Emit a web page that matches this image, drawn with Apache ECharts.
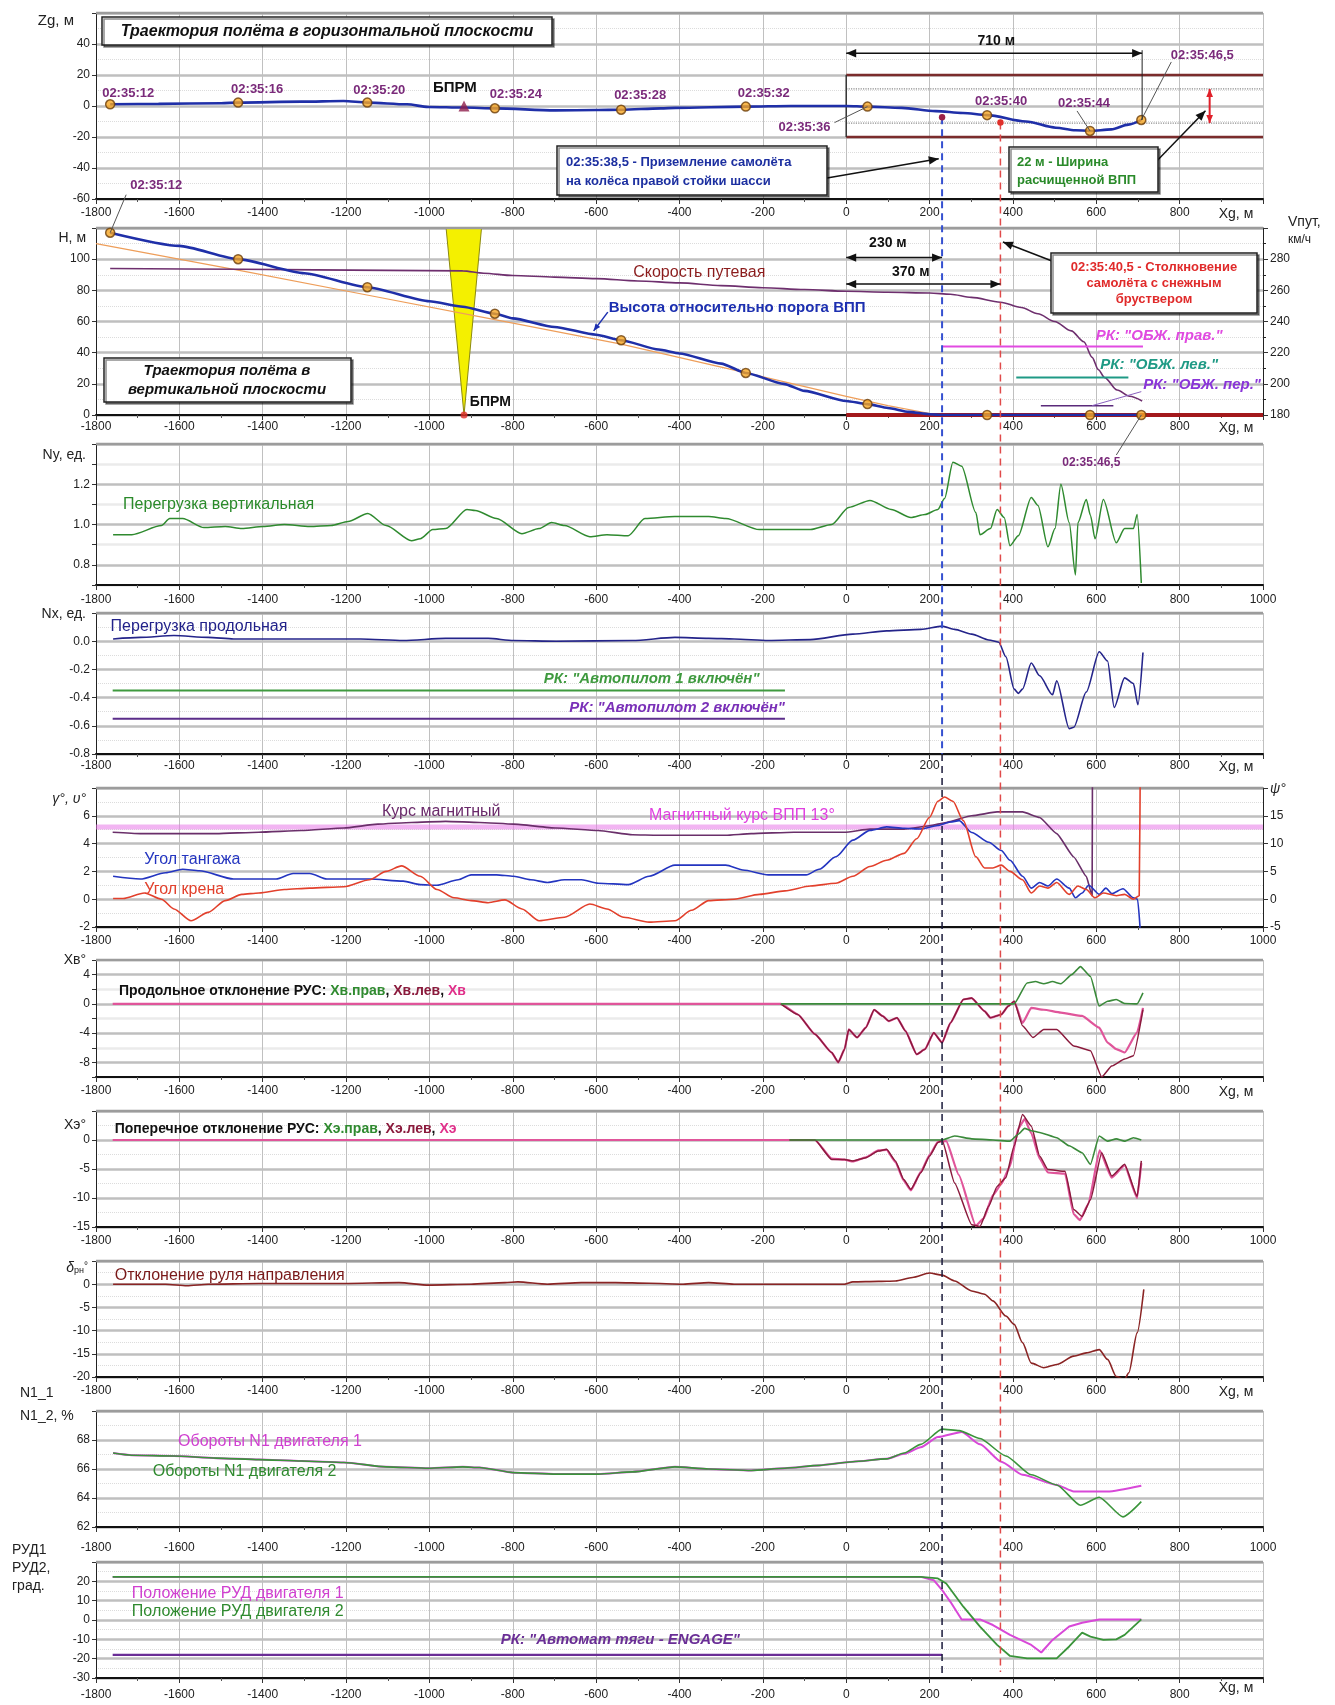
<!DOCTYPE html>
<html lang="ru">
<head>
<meta charset="utf-8">
<title>Траектория и параметры полёта</title>
<script src="https://cdn.jsdelivr.net/npm/echarts@6/dist/echarts.min.js"></script>
<style>
html,body{margin:0;padding:0;background:#fff;}
#chart{width:1335px;height:1705px;}
</style>
</head>
<body>
<div id="chart"></div>
<script>
// ---------------- recorded values ----------------
// time stamps along the approach (Xg in m, Zg in m, H in m)
const timeLabels = ['02:35:12','02:35:16','02:35:20','02:35:24','02:35:28','02:35:32','02:35:36','02:35:40','02:35:44','02:35:46,5'];
const timeX  = [-1766,-1459,-1149,-843,-540,-241,51,338,585,708];
const timeZg = [1.1,2.2,2.2,-1.5,-2.4,-0.4,-0.4,-5.9,-16.1,-9];
const timeH  = [117,100,82,65,48,27,7,0,0,0];

// events and runway geometry
const touchdownX = 230;
const collisionX = 370;
const touchdownZg = -7.3;
const collisionZg = -10.6;
const bprmX = -917;
const bprmBeam = [-960, -875];
const runwayStart = 0;
const runwayEnd = 1000;
const runwayHalfWidth = 20;
const clearedHalfWidth = 11;
const trackLength = 710;
const runwayCourse = 13;

// horizontal trajectory Zg(Xg)
const zgTrack = [[-1766,1.1],[-1650,1.4],[-1500,1.8],[-1459,2.2],[-1307,2.8],[-1206,3.2],[-1149,2.2],[-1054,1.1],[-1003,-0.6],[-917,-1.0],[-843,-1.5],[-698,-2.8],[-600,-2.6],[-540,-2.4],[-445,-1.5],[-410,-1.2],[-241,-0.4],[-133,0],[0,0],[51,-0.4],[133,-1.2],[215,-3.3],[280,-4.5],[338,-5.9],[431,-10],[503,-14],[550,-15.6],[585,-16.1],[636,-15.1],[677,-12],[708,-9]];

// vertical trajectory H(Xg), glide path, ground speed
const heightTrack = [[-1766,117],[-1600,108.5],[-1459,100],[-1300,91],[-1149,82],[-1000,73],[-920,69.5],[-843,65],[-800,62],[-700,56.5],[-600,51.5],[-540,48],[-450,42],[-400,39.5],[-300,33],[-241,27],[-150,20],[-100,15.5],[0,9],[51,7],[100,4.5],[150,2],[200,0.5],[230,0],[710,0]];
const glidePath = [[-1800,110],[-1450,92.5],[-1150,77],[-840,61],[-540,45.5],[-240,27],[0,12],[100,6],[220,0]];
const groundSpeed = [[-1766,274],[-1450,273.5],[-1100,272.8],[-920,272.5],[-870,271],[-800,269.5],[-700,268.5],[-600,267.5],[-500,266],[-400,264.8],[-300,263],[-200,261.7],[-100,260.5],[0,259.4],[100,258.8],[200,258.3],[250,257.5],[300,255.5],[370,252.4],[420,249],[460,245],[500,240],[540,234],[570,227],[590,217],[605,209],[620,204],[650,196],[680,192],[710,189]];

// one-shot signals [from, to, level]
const rkGearRight = [231, 712, 44];
const rkGearLeft  = [408, 677, 24];
const rkGearNose  = [467, 641, 6];
const rkAutopilot1 = [-1760, -147, -0.35];
const rkAutopilot2 = [-1760, -147, -0.55];
const rkAutothrottle = [-1760, 230, -18];

// vertical and longitudinal load factors
const nyLoad = [[-1759,0.95],[-1714,0.95],[-1643,0.995],[-1623,1.03],[-1592,1.03],[-1541,0.985],[-1490,0.99],[-1450,0.98],[-1399,0.99],[-1348,1.0],[-1287,0.99],[-1236,0.995],[-1195,1.015],[-1148,1.055],[-1104,0.995],[-1043,0.92],[-1022,0.93],[-992,0.975],[-961,0.98],[-910,1.075],[-890,1.07],[-839,1.03],[-778,0.955],[-737,0.98],[-707,1.01],[-676,0.995],[-615,0.94],[-574,0.95],[-523,0.945],[-483,1.03],[-411,1.04],[-330,1.04],[-289,1.03],[-208,0.975],[-86,0.975],[-35,1.0],[6,1.085],[57,1.12],[108,1.075],[155,1.035],[189,1.05],[220,1.075],[236,1.13],[256,1.31],[277,1.29],[311,1.06],[321,0.95],[346,0.98],[362,1.075],[379,1.035],[393,0.895],[413,0.945],[444,1.135],[460,1.095],[484,0.89],[501,0.98],[515,1.2],[535,1.01],[550,0.75],[556,1.01],[576,1.125],[586,1.045],[597,0.93],[617,1.125],[648,0.91],[668,0.98],[689,0.98],[698,1.05],[708,0.71]];
const nxLoad = [[-1759,0.016],[-1694,0.027],[-1613,0.04],[-1531,0.027],[-1470,0.016],[-1307,0.016],[-1165,0.016],[-1063,0.005],[-961,0.02],[-859,0.02],[-798,0.005],[-696,0],[-513,0.005],[-411,0.027],[-330,0.02],[-269,0.016],[-187,0.005],[-86,0.011],[16,0.05],[97,0.073],[179,0.084],[230,0.107],[260,0.084],[301,0.05],[342,0.009],[366,-0.007],[383,-0.11],[403,-0.34],[413,-0.37],[423,-0.34],[444,-0.155],[464,-0.245],[495,-0.38],[505,-0.28],[535,-0.62],[546,-0.61],[576,-0.36],[607,-0.075],[627,-0.14],[643,-0.47],[668,-0.26],[689,-0.3],[700,-0.45],[712,-0.08]];

// magnetic heading (deg), pitch and roll (deg)
const magHeading = [[-1760,12.05],[-1694,11.8],[-1511,11.8],[-1409,12.05],[-1307,12.35],[-1205,12.8],[-1124,13.5],[-1043,13.8],[-961,14.0],[-880,13.8],[-798,13.5],[-696,12.8],[-595,12.35],[-513,11.6],[-452,11.5],[-289,11.5],[-228,11.8],[-126,12.05],[-4,12.05],[57,12.6],[139,12.6],[200,13.2],[240,13.8],[301,15.0],[362,15.7],[423,15.7],[464,14.7],[505,11.8],[546,7.6],[576,4.1],[590,0.6],[591,30]];
const pitchAngle = [[-1759,1.65],[-1694,1.45],[-1633,1.9],[-1592,2.15],[-1552,2.05],[-1470,1.45],[-1368,1.45],[-1327,1.85],[-1287,1.85],[-1246,1.45],[-1144,1.45],[-1063,1.3],[-1022,1.05],[-982,1.0],[-931,1.4],[-900,1.75],[-839,1.75],[-798,1.65],[-757,1.4],[-717,1.2],[-676,1.4],[-635,1.4],[-595,1.15],[-523,1.05],[-473,1.65],[-411,2.45],[-289,2.45],[-248,2.1],[-187,1.75],[-96,1.75],[-65,2.15],[-25,3.05],[16,4.25],[57,4.95],[97,5.2],[139,5.1],[179,5.05],[220,5.3],[250,5.55],[271,5.65],[301,4.8],[342,4.1],[372,3.5],[393,2.8],[423,1.65],[444,0.8],[464,1.2],[484,0.95],[505,1.45],[535,0.8],[550,0.1],[566,0.45],[582,1.0],[607,0.35],[623,0.8],[637,0.4],[664,0.75],[689,0.1],[699,0],[706,-2.5]];
const rollAngle = [[-1759,0.05],[-1735,0.05],[-1684,0.45],[-1643,0],[-1613,-0.7],[-1572,-1.55],[-1531,-0.95],[-1490,-0.1],[-1450,0.35],[-1409,0.45],[-1348,0.7],[-1287,0.8],[-1205,0.9],[-1144,1.4],[-1104,2.0],[-1067,2.4],[-1022,1.65],[-982,0.7],[-941,0.1],[-900,-0.1],[-859,-0.25],[-819,-0.05],[-778,-0.7],[-737,-1.55],[-676,-1.3],[-615,-0.35],[-574,-0.7],[-534,-1.3],[-473,-1.65],[-411,-1.55],[-371,-0.8],[-330,-0.1],[-269,0],[-208,0.35],[-147,0.6],[-86,0.95],[-25,1.15],[16,1.65],[57,2.35],[97,2.8],[139,3.3],[169,4.35],[200,5.9],[220,7.05],[236,7.35],[256,7.05],[281,5.65],[311,3.05],[332,2.25],[352,2.25],[372,2.45],[393,2.0],[423,1.4],[444,0.45],[464,0.95],[484,0.8],[505,1.2],[535,0.35],[556,0.95],[576,0.7],[597,0.1],[617,0.45],[648,0.25],[668,0.35],[689,0],[703,0.25],[706,12]];

// control column, longitudinal (deg)
const xvSum = [[-1760,0],[-157,0],[-116,-1.45],[-75,-4.15],[-35,-6.65],[-19,-8],[-4,-6.2],[6,-3.5],[26,-4.6],[47,-3.25],[67,-0.8],[87,-1.65],[102,-2.35],[122,-1.9],[142,-3.7],[169,-6.9],[189,-6.2],[210,-3.95],[230,-5.3],[250,-2.6],[281,0.6],[301,0.8],[332,-1.0],[346,-1.9],[372,-1.45],[389,-0.3],[403,0.35],[423,-2.6],[444,-0.55],[474,-0.8],[515,-1.2],[566,-1.65],[607,-3.25],[627,-5.3],[648,-6.2],[668,-6.65],[698,-3.9],[712,-0.55]];
const xvLeft = [[-157,0],[-116,-1.45],[-75,-4.15],[-35,-6.65],[-19,-8],[-4,-6.2],[6,-3.5],[26,-4.6],[47,-3.25],[67,-0.8],[87,-1.65],[102,-2.35],[122,-1.9],[142,-3.7],[169,-6.9],[189,-6.2],[210,-3.95],[230,-5.3],[250,-2.6],[281,0.6],[301,0.8],[332,-1.0],[346,-1.9],[372,-1.45],[389,-0.3],[403,0.35],[423,-3.0],[448,-4.6],[474,-3.5],[505,-3.5],[546,-5.75],[586,-6.4],[613,-10],[637,-8.5],[668,-7.55],[689,-7.1],[712,-0.8]];
const xvRight = [[-157,0],[403,0],[434,2.85],[454,3.05],[474,2.75],[495,3.05],[515,2.75],[541,4.0],[562,5.1],[586,3.75],[607,-0.3],[627,0.35],[648,0.6],[668,0.05],[698,0],[712,1.5]];

// control column, lateral (deg)
const xeSum = [[-1760,0],[-136,0],[-75,0],[-35,-3.2],[-4,-3.4],[16,-3.7],[47,-3.0],[77,-1.8],[97,-1.7],[118,-3.8],[138,-7],[155,-8.7],[179,-5.5],[200,-2.6],[220,-0.3],[240,-0.2],[270,-6],[311,-14.8],[330,-13.5],[352,-9.5],[372,-7.6],[393,-4.5],[413,2.0],[428,3.6],[444,1.2],[464,-3.2],[484,-5.6],[525,-5.8],[546,-12.8],[561,-13.8],[581,-11],[608,-1.8],[637,-6.5],[668,-4.4],[698,-10],[708,-4.0]];
const xeLeft = [[-136,0],[-75,0],[-35,-3.35],[-4,-3.35],[16,-3.6],[47,-3.05],[77,-1.9],[97,-1.6],[118,-3.6],[138,-6.8],[155,-8.5],[179,-5.65],[200,-2.75],[220,-0.45],[230,0],[260,-7.4],[301,-14.6],[321,-14.9],[342,-11.4],[362,-8],[383,-6.5],[403,-1.0],[423,4.4],[444,2.4],[464,-2.75],[484,-5.1],[525,-5.4],[546,-12],[566,-13.2],[586,-10.3],[613,-2.2],[637,-6.2],[668,-4.2],[698,-9.7],[708,-3.6]];
const xeRight = [[-136,0],[230,0],[260,0.7],[301,0.2],[352,0],[393,-0.2],[413,1.0],[428,2.0],[444,1.6],[464,1.3],[505,0.4],[535,-1.0],[566,-2.2],[586,-4.2],[607,0.7],[627,-0.2],[648,0.2],[668,-0.2],[689,0.4],[708,0]];

// rudder deflection (deg)
const rudder = [[-1759,0],[-1633,0],[-1582,-0.35],[-1531,0],[-1409,0.15],[-1205,0.15],[-1073,0.35],[-1002,-0.2],[-900,0],[-819,0.35],[-788,0.5],[-717,0],[-635,0.35],[-554,0.35],[-473,0.2],[-391,0],[-330,0.35],[-269,0],[-4,0],[16,0.5],[77,0.6],[118,0.7],[159,1.45],[200,2.4],[230,1.95],[260,0.7],[301,-1.45],[332,-2.15],[352,-3.6],[383,-6.85],[403,-8.65],[423,-12.6],[444,-17],[474,-18],[505,-17.3],[546,-15.5],[576,-14.8],[607,-14.1],[627,-16.2],[648,-19.9],[668,-20.5],[678,-19.1],[698,-10.5],[714,-1.1]];

// fan speed N1 (%)
const n1Eng1 = [[-1759,67.1],[-1714,66.95],[-1613,66.9],[-1511,66.75],[-1409,66.65],[-1307,66.55],[-1205,66.45],[-1104,66.15],[-1002,66.05],[-920,66.15],[-880,66.1],[-798,65.75],[-696,65.65],[-595,65.65],[-513,65.8],[-411,66.15],[-330,66.0],[-228,65.9],[-147,66.05],[-65,66.25],[16,66.5],[97,66.7],[139,67.05],[179,67.5],[220,68.2],[277,68.55],[321,67.7],[372,66.5],[423,65.6],[505,64.9],[546,64.45],[627,64.45],[708,64.85]];
const n1Eng2 = [[-1759,67.1],[-1714,66.95],[-1613,66.9],[-1511,66.75],[-1409,66.65],[-1307,66.55],[-1205,66.45],[-1104,66.15],[-1002,66.05],[-920,66.15],[-880,66.1],[-798,65.75],[-696,65.65],[-595,65.65],[-513,65.8],[-411,66.15],[-330,66.0],[-228,65.9],[-147,66.05],[-65,66.25],[16,66.5],[97,66.7],[139,67.1],[179,67.7],[230,68.75],[271,68.65],[321,68.1],[383,66.9],[444,65.6],[505,64.9],[562,63.5],[607,64.05],[664,62.7],[708,63.75]];

// throttle lever angle (deg)
const thr1 = [[-1760,22.3],[179,22.3],[210,20.6],[230,15.5],[250,9.4],[277,0.3],[321,0.3],[352,-2.6],[393,-7.7],[444,-12.9],[468,-16.8],[495,-10.3],[535,-3.4],[566,-1.4],[607,0.3],[708,0.3]];
const thr2 = [[-1760,22.3],[179,22.3],[220,21.5],[240,18.9],[281,6.9],[321,-3.4],[362,-12.9],[393,-18.6],[434,-19.8],[505,-19.8],[535,-13.7],[566,-6.5],[586,-8.6],[617,-10.3],[648,-10],[668,-7.7],[708,0.3]];

// ---------------- layout and styling ----------------
const FONT = '"Liberation Sans", Arial, Helvetica, sans-serif';
const L = 96, R = 72, W = 1335;
const layout = [
  {top:13,   h:186, lm:8},
  {top:228,  h:187, lm:6},
  {top:444,  h:141, lm:9},
  {top:613,  h:141, lm:6},
  {top:788,  h:139, lm:8},
  {top:960,  h:117, lm:8},
  {top:1111, h:116, lm:8},
  {top:1261, h:116, lm:8},
  {top:1411, h:116, lm:15},
  {top:1562, h:116, lm:11}
];
const xgPanels = [0,1,3,5,7,9];
const r1 = v => Math.round(v * 10) / 10;
const yScale = [
  {min:-60, max:60, step:20, fmt:v => v === 60 ? '' : String(v), minor:true},
  {min:0, max:120, step:20, fmt:v => v === 120 ? '' : String(v), minor:true},
  {min:0.7, max:1.4, step:0.1, fmt:v => [0.8,1.0,1.2].includes(r1(v)) ? r1(v).toFixed(1) : '', cycle:true},
  {min:-0.8, max:0.2, step:0.2, fmt:v => r1(v) > 0.1 ? '' : r1(v).toFixed(1), minor:true},
  {min:-2, max:8, step:2, fmt:v => v === 8 ? '' : String(v), minor:true},
  {min:-10, max:6, step:2, fmt:v => (v % 4 === 0 && v < 6) ? String(v) : '', cycle:true},
  {min:-15, max:5, step:5, fmt:v => v === 5 ? '' : String(v), minor:true},
  {min:-20, max:5, step:5, fmt:v => v === 5 ? '' : String(v), minor:true},
  {min:62, max:70, step:2, fmt:v => v === 70 ? '' : String(v), minor:true},
  {min:-30, max:30, step:10, fmt:v => v === 30 ? '' : String(v), minor:true}
];

const grids = layout.map(p => ({left:L, right:R, top:p.top, height:p.h, containLabel:false}));

const xAxes = layout.map((p, i) => ({
  type:'value', gridIndex:i, min:-1800, max:1000, interval:200,
  axisLine:{show:true, onZero:false, lineStyle:{color:'#111', width:2}},
  axisTick:{show:true, length:5, lineStyle:{color:'#333'}},
  minorTick:{show:true, splitNumber:2, length:3, lineStyle:{color:'#555'}},
  axisLabel:{show:true, margin:p.lm, fontSize:12, color:'#222', fontFamily:FONT,
    showMinLabel:true, showMaxLabel:true, hideOverlap:false,
    formatter:v => (v === 1000 && xgPanels.includes(i)) ? '' : String(v)},
  splitLine:{show:true, lineStyle:{color:'#c0c0c0', width:1}}
}));

const yAxes = yScale.map((s, i) => ({
  type:'value', gridIndex:i, min:s.min, max:s.max, interval:s.step,
  axisLine:{show:true, onZero:false, lineStyle:{color:'#222', width:1}},
  axisTick:{show:true, length:4, lineStyle:{color:'#333'}},
  axisLabel:{fontSize:12, color:'#222', fontFamily:FONT, margin:6, showMinLabel:true, showMaxLabel:true, formatter:s.fmt},
  splitLine:{show:true, lineStyle:{color: s.cycle ? ['#ebebeb', '#bfbfbf'] : '#bfbfbf', width:2.5}},
  minorTick:{show:false, splitNumber:2},
  minorSplitLine:{show:!!s.minor, lineStyle:{color:'#dcdcdc', type:'dotted', width:1}}
}));
// right-hand scales: ground speed and magnetic heading
yAxes.push({
  type:'value', gridIndex:1, position:'right', min:180, max:300, interval:20,
  axisLine:{show:true, onZero:false, lineStyle:{color:'#222', width:1}},
  axisTick:{show:true, length:5, lineStyle:{color:'#333'}},
  minorTick:{show:true, splitNumber:2, length:3},
  axisLabel:{fontSize:12, color:'#222', fontFamily:FONT, margin:7, formatter:v => v === 300 ? '' : String(v)},
  splitLine:{show:false}
});
yAxes.push({
  type:'value', gridIndex:4, position:'right', min:-5, max:20, interval:5,
  axisLine:{show:true, onZero:false, lineStyle:{color:'#222', width:1}},
  axisTick:{show:true, length:5, lineStyle:{color:'#333'}},
  axisLabel:{fontSize:12, color:'#222', fontFamily:FONT, margin:7, formatter:v => v === 20 ? '' : String(v)},
  splitLine:{show:false}
});

function ln(data, xi, yi, color, width, o) {
  o = o || {};
  return {type:'line', data, xAxisIndex:xi, yAxisIndex:yi, symbol:'none', showSymbol:false,
    silent:true, animation:false, clip:true, smooth:o.smooth || false, smoothMonotone:'x', z:o.z || 5,
    lineStyle:{color, width, type:o.type || 'solid', opacity:o.opacity == null ? 1 : o.opacity}};
}
const seg = a => [[a[0], a[2]], [a[1], a[2]]];
const markerStyle = {color:'#f6a623', borderColor:'#6b3d0a', borderWidth:1.5};
const SM = 0.25;

const series = [
  // --- horizontal plane ---
  ln([[runwayStart, clearedHalfWidth], [runwayEnd, clearedHalfWidth]], 0, 0, '#8a8a8a', 1.2, {type:'dotted'}),
  ln([[runwayStart, -clearedHalfWidth], [runwayEnd, -clearedHalfWidth]], 0, 0, '#8a8a8a', 1.2, {type:'dotted'}),
  ln([[runwayStart, runwayHalfWidth], [runwayEnd, runwayHalfWidth]], 0, 0, '#7b2c2c', 2.5),
  ln([[runwayStart, -runwayHalfWidth], [runwayEnd, -runwayHalfWidth]], 0, 0, '#7b2c2c', 2.5),
  ln([[runwayStart, -runwayHalfWidth], [runwayStart, runwayHalfWidth]], 0, 0, '#333', 1.5),
  ln(zgTrack, 0, 0, '#1f2fa8', 2.6, {z:10, smooth:0.3}),
  {type:'scatter', xAxisIndex:0, yAxisIndex:0, data:timeX.map((x, i) => [x, timeZg[i]]), symbol:'circle', symbolSize:9,
    itemStyle:markerStyle, z:12, silent:true, animation:false},
  {type:'scatter', xAxisIndex:0, yAxisIndex:0, data:[[bprmX, 0]], symbol:'triangle', symbolSize:11,
    itemStyle:{color:'#8e1f4c'}, z:12, silent:true, animation:false},
  // --- vertical plane ---
  {type:'custom', xAxisIndex:1, yAxisIndex:1, z:1, silent:true, animation:false,
    data:[[bprmX, 0, bprmBeam[0], bprmBeam[1], 120]],
    renderItem:(params, api) => {
      const apex = api.coord([api.value(0), api.value(1)]);
      const l = api.coord([api.value(2), api.value(4)]);
      const r = api.coord([api.value(3), api.value(4)]);
      return {type:'polygon', shape:{points:[l, r, apex]}, style:{fill:'#f4f000', stroke:'#8c8a10', lineWidth:1}};
    }},
  ln(glidePath, 1, 1, '#ee9e5a', 1.2),
  ln(groundSpeed, 1, 10, '#6e2f6e', 1.6, {smooth:0.3}),
  ln([[runwayStart, 0], [runwayEnd, 0]], 1, 1, '#a3191c', 4, {z:6}),
  ln(heightTrack, 1, 1, '#1f2fa8', 2.6, {z:10, smooth:0.2}),
  ln(seg(rkGearRight), 1, 1, '#e24be2', 2),
  ln(seg(rkGearLeft), 1, 1, '#1f9a85', 2),
  ln(seg(rkGearNose), 1, 1, '#5a2a7a', 1.5),
  {type:'scatter', xAxisIndex:1, yAxisIndex:1, data:timeX.map((x, i) => [x, timeH[i]]), symbol:'circle', symbolSize:9,
    itemStyle:markerStyle, z:12, silent:true, animation:false},
  {type:'scatter', xAxisIndex:1, yAxisIndex:1, data:[[bprmX, 0]], symbol:'circle', symbolSize:7,
    itemStyle:{color:'#e0302a'}, z:13, silent:true, animation:false},
  // --- load factors ---
  ln(nyLoad, 2, 2, '#2f8a2f', 1.5, {smooth:SM}),
  ln(seg(rkAutopilot1), 3, 3, '#3f9a3f', 2),
  ln(seg(rkAutopilot2), 3, 3, '#5b2d8a', 2),
  ln(nxLoad, 3, 3, '#24248a', 1.6, {smooth:SM}),
  // --- attitude and heading ---
  ln([[-1800, runwayCourse], [1000, runwayCourse]], 4, 11, '#e878e8', 5, {opacity:0.55}),
  ln(magHeading, 4, 11, '#6a2f6a', 1.6, {smooth:0.15}),
  ln(pitchAngle, 4, 4, '#2435c0', 1.6, {smooth:SM}),
  ln(rollAngle, 4, 4, '#e2402c', 1.6, {smooth:SM}),
  // --- column, longitudinal ---
  ln(xvSum, 5, 5, '#e0559a', 2.2, {smooth:0.15}),
  ln(xvLeft, 5, 5, '#8a1a3c', 1.5, {smooth:0.15}),
  ln(xvRight, 5, 5, '#3a8a3a', 1.6, {smooth:0.15}),
  // --- column, lateral ---
  ln(xeSum, 6, 6, '#e0559a', 2.2, {smooth:0.15}),
  ln(xeLeft, 6, 6, '#8a1a3c', 1.5, {smooth:0.15}),
  ln(xeRight, 6, 6, '#3a8a3a', 1.6, {smooth:0.15}),
  // --- rudder ---
  ln(rudder, 7, 7, '#8a2424', 1.6, {smooth:SM}),
  // --- N1 ---
  ln(n1Eng1, 8, 8, '#d848d8', 2, {smooth:0.2}),
  ln(n1Eng2, 8, 8, '#3a943a', 1.6, {smooth:0.2}),
  // --- throttle ---
  ln(seg(rkAutothrottle), 9, 9, '#6a2e96', 2.2),
  ln(thr1, 9, 9, '#d848d8', 2),
  ln(thr2, 9, 9, '#3a943a', 1.8)
];

const chart = echarts.init(document.getElementById('chart'), null, {renderer:'canvas', width:1335, height:1705});
chart.setOption({
  backgroundColor:'#fff', animation:false,
  grid:grids, xAxis:xAxes, yAxis:yAxes, series:series
});

// ---------------- annotations ----------------
const P = (xi, yi, x, y) => chart.convertToPixel({xAxisIndex:xi, yAxisIndex:yi}, [x, y]);
const G = [];
function add(el) { el.silent = true; if (el.z == null) el.z = 50; G.push(el); }
function gLine(a, b, stroke, lineWidth, dash, z) {
  const style = {stroke, lineWidth};
  if (dash) style.lineDash = dash;
  add({type:'line', shape:{x1:a[0], y1:a[1], x2:b[0], y2:b[1]}, style, z:z || 50});
}
function gHead(from, to, color, size) {
  const s = size || 9, ang = Math.atan2(to[1] - from[1], to[0] - from[0]);
  const bx = to[0] - s * Math.cos(ang), by = to[1] - s * Math.sin(ang);
  const w = s * 0.42, nx = -Math.sin(ang) * w, ny = Math.cos(ang) * w;
  add({type:'polygon', shape:{points:[[to[0], to[1]], [bx + nx, by + ny], [bx - nx, by - ny]]}, style:{fill:color}, z:52});
}
function gArrow(a, b, color, width, both, size) {
  gLine(a, b, color, width); gHead(a, b, color, size); if (both) gHead(b, a, color, size);
}
function gText(pt, text, font, fill, align, valign) {
  add({type:'text', x:pt[0], y:pt[1], z:60, style:{text, font:font + ' ' + FONT, fill:fill || '#111',
    textAlign:align || 'left', align:align || 'left',
    textVerticalAlign:valign || 'middle', verticalAlign:valign || 'middle'}});
}
function gBox(x, y, w, h) {
  add({type:'rect', shape:{x, y, width:w, height:h},
    style:{fill:'#fff', stroke:'#222', lineWidth:1.5, shadowColor:'rgba(0,0,0,0.45)', shadowOffsetX:2, shadowOffsetY:2, shadowBlur:0}, z:55});
}
function gDot(pt, r, fill) { add({type:'circle', shape:{cx:pt[0], cy:pt[1], r}, style:{fill}, z:58}); }

// panel frames (top edge)
layout.forEach(p => gLine([L, p.top], [W - R, p.top], '#9c9c9c', 2.5, null, 4));

// axis captions
gText([74, 21], 'Zg, м', '15px', '#222', 'right');
gText([86, 238], 'H, м', '14px', '#222', 'right');
gText([86, 455], 'Ny, ед.', '14px', '#222', 'right');
gText([86, 614], 'Nx, ед.', '14px', '#222', 'right');
gText([86, 799], 'γ°, υ°', 'italic 14px', '#222', 'right');
gText([1270, 789], 'ψ°', 'italic 14px', '#222', 'left');
gText([86, 960], 'Хв°', '14px', '#222', 'right');
gText([86, 1125], 'Хэ°', '14px', '#222', 'right');
add({type:'text', x:88, y:1268, z:60, style:{text:'{d|δ}{s|рн}{u|°}', textAlign:'right', align:'right', textVerticalAlign:'middle', verticalAlign:'middle',
  fill:'#222', font:'14px ' + FONT,
  rich:{d:{font:'italic 14px ' + FONT, fill:'#222'}, s:{font:'9px ' + FONT, fill:'#222', verticalAlign:'bottom'}, u:{font:'10px ' + FONT, fill:'#222', verticalAlign:'top'}}}});
gText([20, 1393], 'N1_1', '14px', '#222', 'left');
gText([20, 1416], 'N1_2, %', '14px', '#222', 'left');
gText([12, 1550], 'РУД1', '14px', '#222', 'left');
gText([12, 1568], 'РУД2,', '14px', '#222', 'left');
gText([12, 1586], 'град.', '14px', '#222', 'left');
gText([1288, 222], 'Vпут,', '14px', '#222', 'left');
gText([1288, 240], 'км/ч', '12px', '#222', 'left');
xgPanels.forEach(i => {
  const p = layout[i];
  gText([1236, p.top + p.h + p.lm + 7 - (i === 9 ? 8 : 0)], 'Xg, м', '14px', '#222', 'center');
});

// event lines through all panels
const p3b = layout[3].top + layout[3].h, p9b = layout[9].top + layout[9].h;
const td = P(0, 0, touchdownX, touchdownZg);
gLine(td, [td[0], p3b], '#3550d0', 2, [7, 5]);
gLine([td[0], p3b], [td[0], p9b], '#1a1a3a', 1.5, [7, 5]);
const cl = P(0, 0, collisionX, collisionZg);
gLine(cl, [cl[0], p9b - 6], '#e04a4a', 1.5, [7, 5]);
gDot(td, 3.2, '#9a2048');
gDot(cl, 3.2, '#e0302a');

// horizontal plane
gBox(102, 17, 450, 28);
gText([327, 31.5], 'Траектория полёта в горизонтальной плоскости', 'italic bold 16px', '#111', 'center');
const TL = '#7a2a7a';
const place = [
  {dx:18, dy:-11}, {dx:19, dy:-13}, {dx:12, dy:-12}, {dx:21, dy:-14}, {dx:19, dy:-14}, {dx:18, dy:-13},
  {dx:-63, dy:21, lead:[-33, 16]}, {dx:14, dy:-14}, {dx:-6, dy:-28, lead:[-13, -20]}, {dx:61, dy:-65, lead:[30, -58]}
];
timeLabels.forEach((t, i) => {
  const m = P(0, 0, timeX[i], timeZg[i]);
  const q = place[i];
  if (q.lead) gLine([m[0] + q.lead[0], m[1] + q.lead[1]], m, '#555', 1);
  gText([m[0] + q.dx, m[1] + q.dy], t, 'bold 13px', TL, 'center');
});
gText(P(0, 0, -939, 11.5), 'БПРМ', 'bold 15px', '#111', 'center');
gArrow(P(0, 0, runwayStart, 34), P(0, 0, trackLength, 34), '#111', 1.5, true, 10);
gLine(P(0, 0, trackLength, 36), P(0, 0, trackLength, timeZg[9]), '#222', 1);
gText(P(0, 0, 360, 42), '710 м', 'bold 14px', '#111', 'center');
gArrow(P(0, 0, 872, clearedHalfWidth), P(0, 0, 872, -clearedHalfWidth), '#e0202a', 2, true, 8);
gBox(557, 146, 270, 49);
gText([566, 162], '02:35:38,5 - Приземление самолёта', 'bold 13px', '#1c2fa0', 'left');
gText([566, 181], 'на колёса правой стойки шасси', 'bold 13px', '#1c2fa0', 'left');
gArrow([827, 178], P(0, 0, 222, -34), '#111', 1.5, false, 10);
gBox(1009, 147, 149, 45);
gText([1017, 162], '22 м - Ширина', 'bold 13px', '#2a8a2a', 'left');
gText([1017, 180], 'расчищенной ВПП', 'bold 13px', '#2a8a2a', 'left');
gArrow([1150, 168], P(0, 0, 862, -3), '#111', 1.5, false, 10);

// vertical plane
const m12 = P(1, 1, timeX[0], timeH[0]);
gLine([m12[0] + 16, m12[1] - 38], m12, '#555', 1);
gText([m12[0] + 46, m12[1] - 47], timeLabels[0], 'bold 13px', TL, 'center');
const m465 = P(1, 1, timeX[9], timeH[9]);
gLine([m465[0] - 25, m465[1] + 40], m465, '#555', 1);
gText([m465[0] - 50, m465[1] + 48], timeLabels[9], 'bold 12px', TL, 'center');
gBox(104, 358, 247, 44);
gText([227, 371], 'Траектория полёта в', 'italic bold 15px', '#111', 'center');
gText([227, 390], 'вертикальной плоскости', 'italic bold 15px', '#111', 'center');
gText(P(1, 1, -903, 8.5), 'БПРМ', 'bold 14px', '#111', 'left');
gText(P(1, 1, -511, 91.5), 'Скорость путевая', '16px', '#8b1c1c', 'left');
gText(P(1, 1, -570, 69), 'Высота относительно порога ВПП', 'bold 15px', '#1c2fb0', 'left');
gArrow(P(1, 1, -572, 66), P(1, 1, -606, 54), '#1c2fb0', 1.5, false, 7);
gArrow(P(1, 1, 0, 101), P(1, 1, touchdownX, 101), '#111', 1.5, true, 10);
gText(P(1, 1, 100, 110.5), '230 м', 'bold 14px', '#111', 'center');
gArrow(P(1, 1, 0, 84), P(1, 1, collisionX, 84), '#111', 1.5, true, 10);
gText(P(1, 1, 155, 91.5), '370 м', 'bold 14px', '#111', 'center');
gBox(1051, 253, 206, 60);
gText([1154, 267], '02:35:40,5 - Столкновение', 'bold 13px', '#e02a2a', 'center');
gText([1154, 283], 'самолёта с снежным', 'bold 13px', '#e02a2a', 'center');
gText([1154, 299], 'бруствером', 'bold 13px', '#e02a2a', 'center');
gArrow([1052, 261], P(1, 1, 376, 111), '#111', 1.5, false, 10);
gText(P(1, 1, 903, 50.5), 'РК: "ОБЖ. прав."', 'italic bold 15px', '#e04ae0', 'right');
gText(P(1, 1, 892, 32), 'РК: "ОБЖ. лев."', 'italic bold 15px', '#1f9a85', 'right');
gText(P(1, 1, 995, 19.5), 'РК: "ОБЖ. пер."', 'italic bold 15px', '#8a35d8', 'right');
gLine(P(1, 1, 590, 6), P(1, 1, 708, 15), '#8a60c0', 1);

// load factors
gText(P(2, 2, -1735, 1.097), 'Перегрузка вертикальная', '16px', '#2a8a2a', 'left');
gText(P(3, 3, -1765, 0.105), 'Перегрузка продольная', '16px', '#22228a', 'left');
gText(P(3, 3, -208, -0.27), 'РК: "Автопилот 1 включён"', 'italic bold 15px', '#3f9a3f', 'right');
gText(P(3, 3, -147, -0.47), 'РК: "Автопилот 2 включён"', 'italic bold 15px', '#7a30b8', 'right');

// attitude
gText(P(4, 4, -1114, 6.3), 'Курс магнитный', '16px', '#6a2a6a', 'left');
gText(P(4, 4, -473, 6.05), 'Магнитный курс ВПП 13°', '16px', '#e040e0', 'left');
gText(P(4, 4, -1684, 2.82), 'Угол тангажа', '16px', '#2435c0', 'left');
gText(P(4, 4, -1684, 0.72), 'Угол крена', '16px', '#e2402c', 'left');

// control column
const richStyles = {
  k:{font:'bold 14px ' + FONT, fill:'#111'},
  g:{font:'bold 14px ' + FONT, fill:'#2f8a2f'},
  r:{font:'bold 14px ' + FONT, fill:'#8a1a3c'},
  m:{font:'bold 14px ' + FONT, fill:'#e0308a'}
};
const pv = P(5, 5, -1745, 1.72);
add({type:'text', x:pv[0], y:pv[1], z:60, style:{text:'{k|Продольное отклонение РУС: }{g|Хв.прав}{k|, }{r|Хв.лев}{k|, }{m|Хв}',
  rich:richStyles, font:'bold 14px ' + FONT, textAlign:'left', align:'left', textVerticalAlign:'middle', verticalAlign:'middle'}});
const pe = P(6, 6, -1755, 1.85);
add({type:'text', x:pe[0], y:pe[1], z:60, style:{text:'{k|Поперечное отклонение РУС: }{g|Хэ.прав}{k|, }{r|Хэ.лев}{k|, }{m|Хэ}',
  rich:richStyles, font:'bold 14px ' + FONT, textAlign:'left', align:'left', textVerticalAlign:'middle', verticalAlign:'middle'}});

// rudder, engines, throttles
gText(P(7, 7, -1755, 1.8), 'Отклонение руля направления', '16px', '#7a1a1a', 'left');
gText(P(8, 8, -1603, 67.9), 'Обороты N1 двигателя 1', '16px', '#d040d0', 'left');
gText(P(8, 8, -1664, 65.85), 'Обороты N1 двигателя 2', '16px', '#2f8a2f', 'left');
gText(P(9, 9, -1714, 13.7), 'Положение РУД двигателя 1', '16px', '#d040d0', 'left');
gText(P(9, 9, -1714, 4.3), 'Положение РУД двигателя 2', '16px', '#2f8a2f', 'left');
gText(P(9, 9, -829, -10.3), 'РК: "Автомат тяги - ENGAGE"', 'italic bold 15px', '#6a2e96', 'left');

chart.setOption({graphic:{elements:G}});
</script>
</body>
</html>
